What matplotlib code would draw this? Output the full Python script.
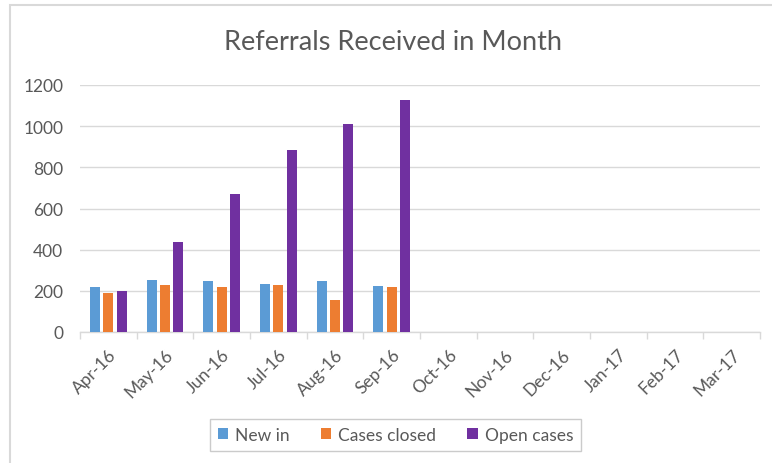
import matplotlib
matplotlib.use("Agg")
import matplotlib.pyplot as plt
import numpy as np
from matplotlib.patches import Rectangle

months = ["Apr-16", "May-16", "Jun-16", "Jul-16", "Aug-16", "Sep-16",
          "Oct-16", "Nov-16", "Dec-16", "Jan-17", "Feb-17", "Mar-17"]
new_in = [220, 254, 249, 235, 249, 225]
cases_closed = [191, 230, 220, 230, 157, 220]
open_cases = [201, 439, 672, 886, 1010, 1129]
yticks = [0, 200, 400, 600, 800, 1000, 1200]

plt.rcParams['font.family'] = ['Lato', 'DejaVu Sans']

W, H = 772, 464
fig = plt.figure(figsize=(W / 100, H / 100), dpi=100)
ax = fig.add_axes([80 / W, 1 - 333 / H, 680 / W, (333 - 86) / H])

x = np.arange(len(new_in))
bw = 0.18
step = 0.235
c_new, c_closed, c_open = "#5b9bd5", "#ed7d31", "#7030a0"
ax.bar(x - step, new_in, bw, color=c_new, label="New in", zorder=3)
ax.bar(x, cases_closed, bw, color=c_closed, label="Cases closed", zorder=3)
ax.bar(x + step, open_cases, bw, color=c_open, label="Open cases", zorder=3)

ax.set_xlim(-0.5, len(months) - 0.5)
ax.set_ylim(0, 1200)
ax.set_yticks(yticks)
ax.set_yticklabels([str(v) for v in yticks])
ax.set_xticks(np.arange(len(months)))
ax.set_xticklabels(months, rotation=45, ha="right", rotation_mode="anchor")
ax.set_xticks(np.arange(len(months) + 1) - 0.5, minor=True)
ax.tick_params(axis="x", which="major", length=0, pad=10, labelsize=12.5, labelcolor="#595959")
ax.tick_params(axis="x", which="minor", length=5, color="#d9d9d9", width=1)
ax.tick_params(axis="y", length=0, pad=12, labelsize=12.5, labelcolor="#595959")

ax.grid(axis="y", color="#d9d9d9", linewidth=1, zorder=0)
for s in ["top", "right", "left"]:
    ax.spines[s].set_visible(False)
ax.spines["bottom"].set_color("#d9d9d9")
ax.spines["bottom"].set_linewidth(1)

fig.text(393 / W, 1 - 43 / H, "Referrals Received in Month", ha="center", va="center",
         fontsize=19.5, color="#595959")

leg = fig.legend(loc="center", bbox_to_anchor=(395.5 / W, 1 - 436 / H), ncol=3,
                 frameon=True, fontsize=12.5, handlelength=0.6, handleheight=0.6,
                 columnspacing=1.8, handletextpad=0.4, borderpad=0.45, fancybox=False)
leg.get_frame().set_edgecolor("#bfbfbf")
leg.get_frame().set_linewidth(1)
for t in leg.get_texts():
    t.set_color("#595959")

fig.patches.append(Rectangle((10 / W, -0.1), 1.2, 1 - 6 / H + 0.1, transform=fig.transFigure,
                             fill=False, edgecolor="#d9d9d9", linewidth=1.5))

fig.savefig("out.png", dpi=100)
